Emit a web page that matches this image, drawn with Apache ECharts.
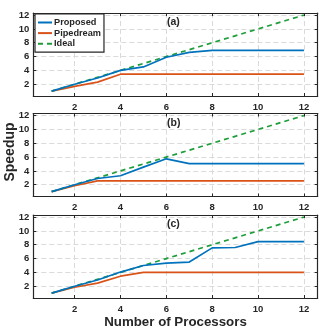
<!DOCTYPE html>
<html>
<head>
<meta charset="utf-8">
<script src="https://cdn.jsdelivr.net/npm/echarts@6/dist/echarts.min.js"></script>
<style>html,body{margin:0;padding:0;background:#fff}#c{width:334px;height:332px}</style>
</head>
<body>
<div id="c"></div>
<script>
const processors = [1,2,3,4,5,6,7,8,9,10,11,12];
const xTicks = [2,4,6,8,10,12];
const yTicks = [2,4,6,8,10,12];
const panelLabels = ['(a)','(b)','(c)'];
const seriesNames = ['Proposed','Pipedream','Ideal'];
const proposedA = [1,2.0,2.9,4.0,4.5,5.9,6.6,6.9,6.9,6.9,6.9,6.9];
const pipedreamA = [1,1.7,2.3,3.45,3.45,3.45,3.45,3.45,3.45,3.45,3.45,3.45];
const proposedB = [1,2.0,2.9,3.3,4.55,5.75,5.05,5.05,5.05,5.05,5.05,5.05];
const pipedreamB = [1,1.85,2.55,2.55,2.55,2.55,2.55,2.55,2.55,2.55,2.55,2.55];
const proposedC = [1,2.0,2.9,4.05,5.0,5.35,5.5,7.55,7.6,8.45,8.45,8.45];
const pipedreamC = [1,1.85,2.45,3.45,4.0,4.0,4.0,4.0,4.0,4.0,4.0,4.0];
const ideal = [1,2,3,4,5,6,7,8,9,10,11,12];

const panels = [
  {prop: proposedA, pipe: pipedreamA},
  {prop: proposedB, pipe: pipedreamB},
  {prop: proposedC, pipe: pipedreamC}
];
const tops = [13, 113.5, 215];
const H = 83;
const FONT = '"Liberation Sans", Arial, Helvetica, sans-serif';
const DARK = '#262626';
const COLORS = ['#0072BD', '#D95319', '#1E9E3A'];

const grids = [], xAxes = [], yAxes = [], series = [];
panels.forEach((p, i) => {
  grids.push({left: 33.3, right: 16.3, top: tops[i], height: H, containLabel: false});
  xAxes.push({
    type: 'value', gridIndex: i, min: 0.2, max: 12.6, position: 'bottom',
    axisLine: {show: true, onZero: false, lineStyle: {color: DARK, width: 1.2}},
    axisTick: {show: true, inside: true, length: 3, customValues: xTicks, lineStyle: {color: DARK}},
    axisLabel: {show: true, customValues: xTicks, color: DARK, fontFamily: FONT, fontWeight: 'bold', fontSize: 9.5, margin: 6},
    splitLine: {show: true, lineStyle: {color: '#dadada', type: [5, 3], width: 1}}
  });
  xAxes.push({
    type: 'value', gridIndex: i, min: 0.2, max: 12.6, position: 'top',
    axisLine: {show: true, onZero: false, lineStyle: {color: DARK, width: 1.2}},
    axisTick: {show: true, inside: true, length: 3, customValues: xTicks, lineStyle: {color: DARK}},
    axisLabel: {show: false}, splitLine: {show: false}
  });
  yAxes.push({
    type: 'value', gridIndex: i, min: 0.3, max: 12.3, position: 'left',
    axisLine: {show: true, onZero: false, lineStyle: {color: DARK, width: 1.2}},
    axisTick: {show: true, inside: true, length: 3, customValues: yTicks, lineStyle: {color: DARK}},
    axisLabel: {show: true, customValues: yTicks, color: DARK, fontFamily: FONT, fontWeight: 'bold', fontSize: 9.5, margin: 4},
    splitLine: {show: true, lineStyle: {color: '#dadada', type: [5, 3], width: 1}}
  });
  yAxes.push({
    type: 'value', gridIndex: i, min: 0.3, max: 12.3, position: 'right',
    axisLine: {show: true, onZero: false, lineStyle: {color: DARK, width: 1.2}},
    axisTick: {show: true, inside: true, length: 3, customValues: yTicks, lineStyle: {color: DARK}},
    axisLabel: {show: false}, splitLine: {show: false}
  });
  const sets = [p.prop, p.pipe, ideal];
  sets.forEach((vals, k) => {
    series.push({
      name: seriesNames[k], type: 'line', xAxisIndex: 2*i, yAxisIndex: 2*i,
      data: processors.map((x, j) => [x, vals[j]]),
      symbol: 'none', silent: true, animation: false, z: k === 2 ? 3 : (k === 0 ? 4 : 2),
      lineStyle: {color: COLORS[k], width: 1.7, type: k === 2 ? [5, 4] : 'solid'},
      itemStyle: {color: COLORS[k]}
    });
  });
});

const chart = echarts.init(document.getElementById('c'), null, {renderer: 'canvas'});
chart.setOption({
  animation: false,
  backgroundColor: '#fff',
  grid: grids, xAxis: xAxes, yAxis: yAxes, series: series,
  legend: {
    data: seriesNames.map(n => ({name: n})),
    orient: 'vertical', left: 35, top: 14,
    backgroundColor: '#fff', borderColor: DARK, borderWidth: 1.2,
    padding: [4, 3, 4, 2], itemGap: 1.6, itemWidth: 14, itemHeight: 9,
    itemStyle: {opacity: 0},
    textStyle: {color: DARK, fontFamily: FONT, fontWeight: 'bold', fontSize: 9.2, padding: [0, 0, 0, -3]},
    selectedMode: false
  },
  graphic: [
    ...panelLabels.map((t, i) => ({
      type: 'text', left: 167, top: tops[i] + 4,
      style: {text: t, font: 'bold 10.5px ' + FONT, fill: DARK}
    })),
    {type: 'text', x: 10, y: 152, rotation: Math.PI / 2,
      style: {text: 'Speedup', font: 'bold 14px ' + FONT, fill: DARK, align: 'center', verticalAlign: 'middle'}},
    {type: 'text', x: 175.5, y: 322,
      style: {text: 'Number of Processors', font: 'bold 13.3px ' + FONT, fill: DARK, align: 'center', verticalAlign: 'middle'}}
  ]
});
</script>
</body>
</html>
